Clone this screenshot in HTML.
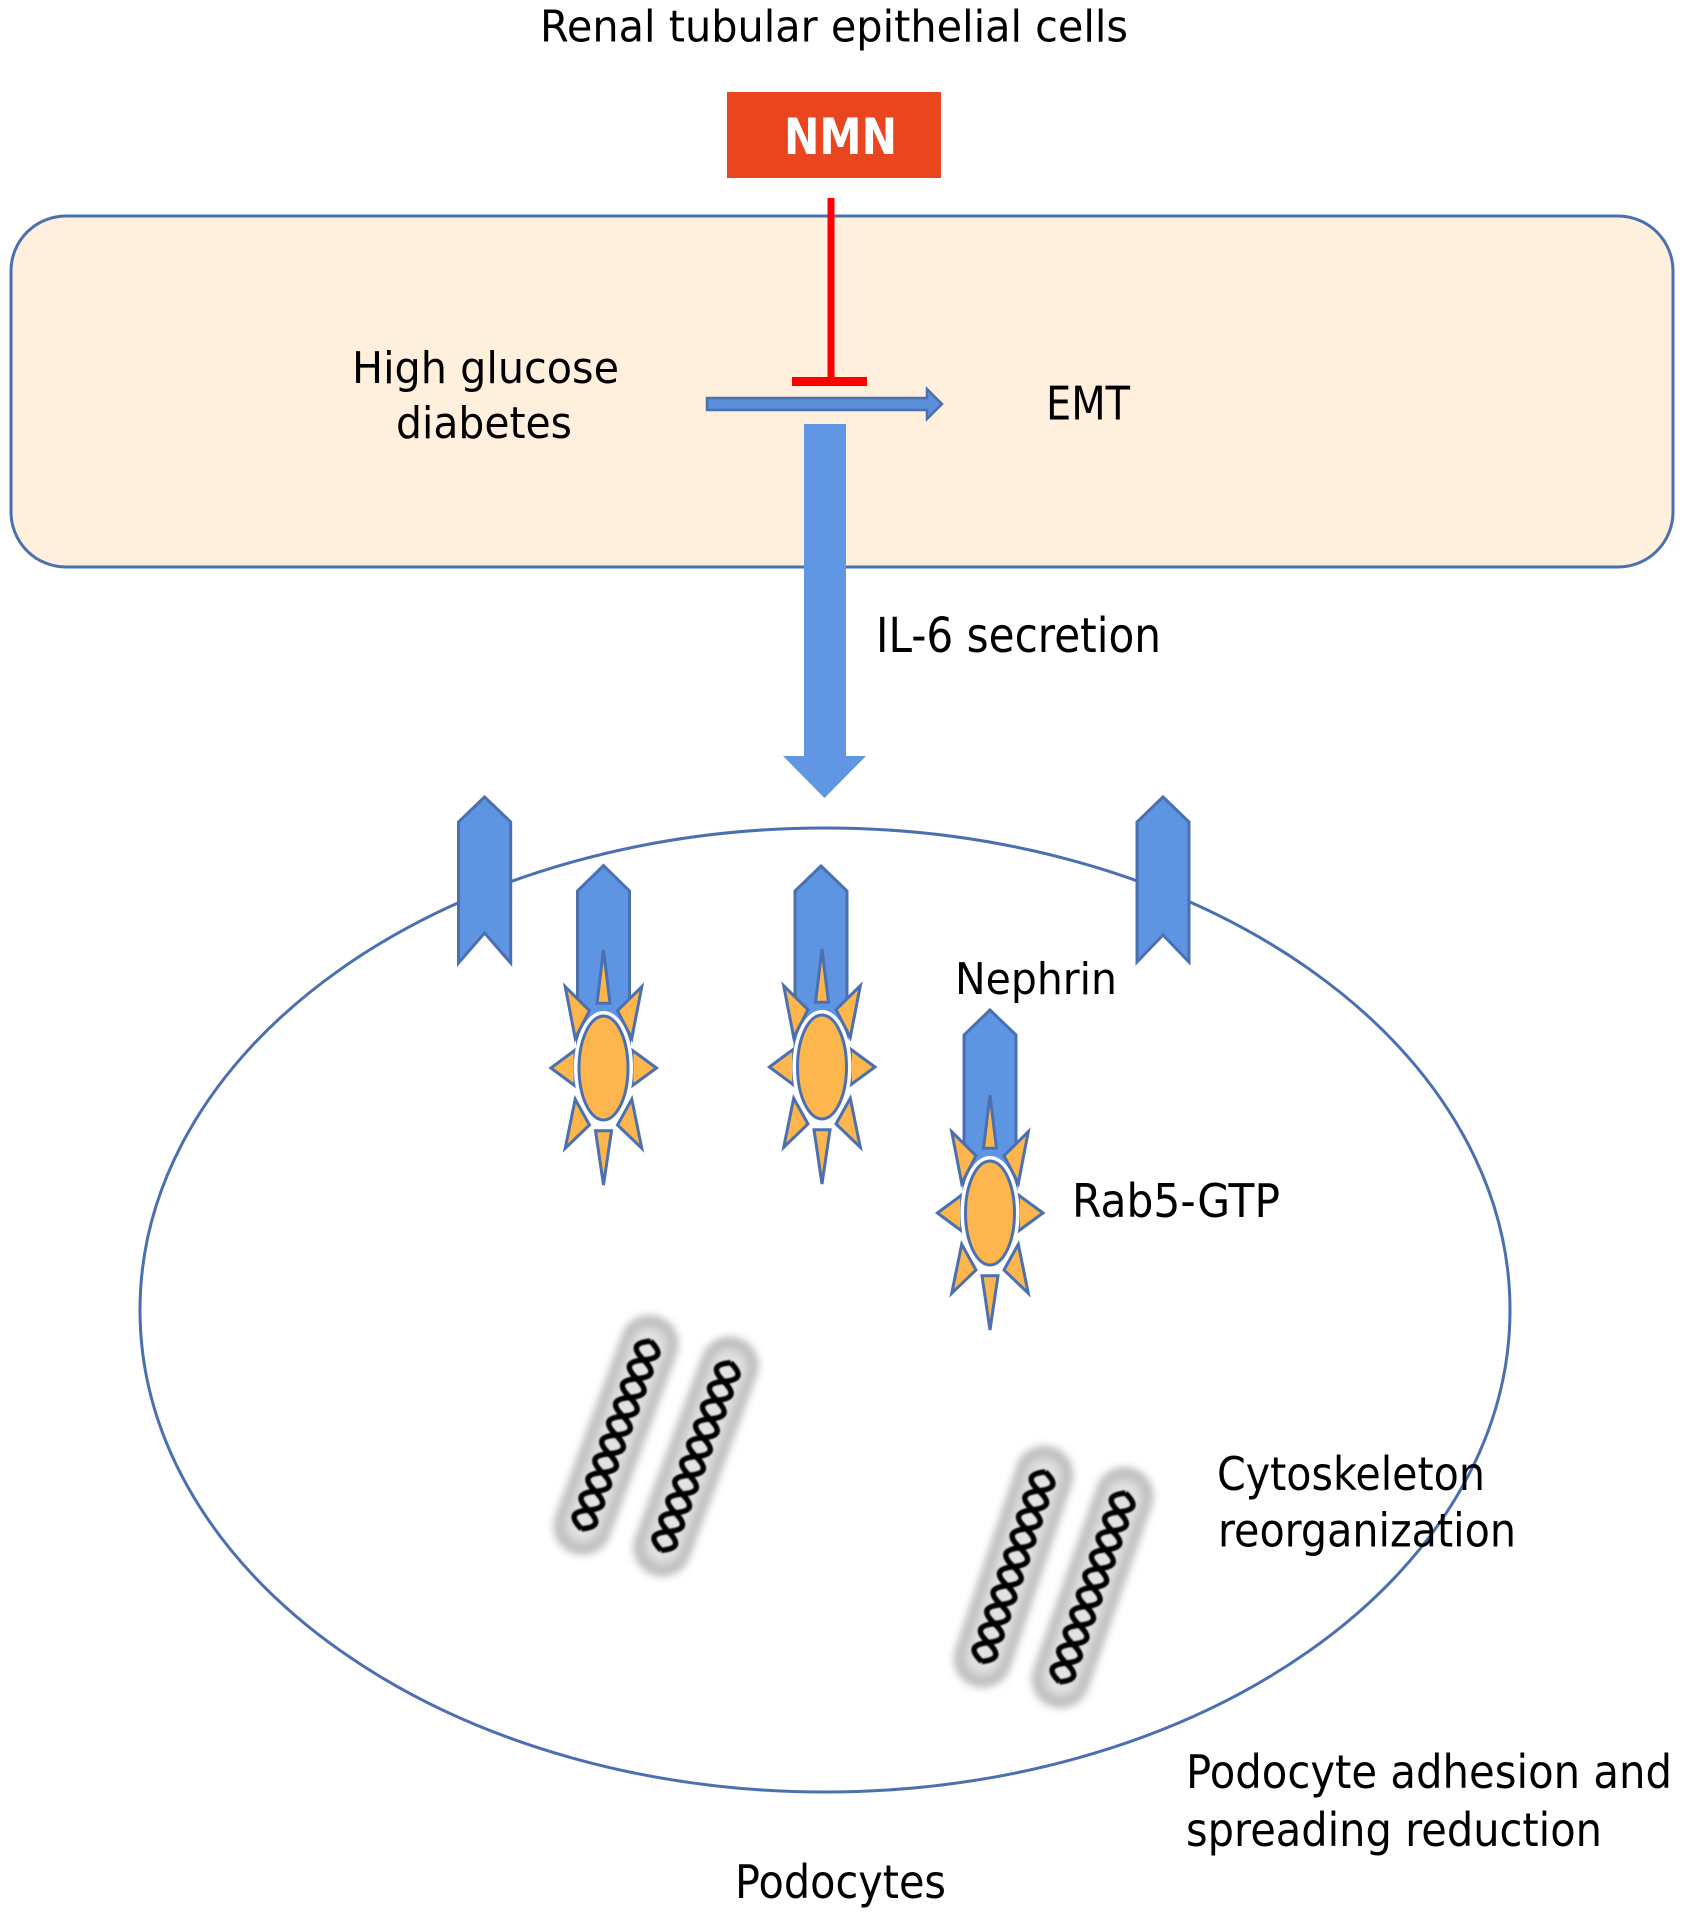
<!DOCTYPE html>
<html>
<head>
<meta charset="utf-8">
<style>
html,body{margin:0;padding:0;background:#fff;}
svg{display:block;}
text{font-family:"DejaVu Sans","Liberation Sans",sans-serif;fill:#000;}
</style>
</head>
<body>
<svg width="1686" height="1919" viewBox="0 0 1686 1919" xmlns="http://www.w3.org/2000/svg">
<defs>
  <filter id="blurH" filterUnits="userSpaceOnUse" x="-90" y="-190" width="180" height="380"><feGaussianBlur stdDeviation="4"/></filter>
  <filter id="blurI" filterUnits="userSpaceOnUse" x="-90" y="-190" width="180" height="380"><feGaussianBlur stdDeviation="5"/></filter>
  <filter id="blurC" filterUnits="userSpaceOnUse" x="-90" y="-190" width="180" height="380"><feGaussianBlur stdDeviation="0.9"/></filter>
  <g id="sun">
    <g fill="#FDB54E" stroke="#4A70B0" stroke-width="3" stroke-linejoin="miter">
      <path d="M0,-118 L6.5,-64.7 L-6.5,-64.7 Z"/>
      <path d="M0,117 L8,62.7 L-8,62.7 Z"/>
      <path d="M-52.6,0 L-28.3,-18 L-28.3,18 Z"/>
      <path d="M53,0 L28.4,-18 L28.4,18 Z"/>
      <path d="M-38.3,-81.3 L-14,-57.3 L-28.3,-29.7 Z"/>
      <path d="M38.3,-81.3 L14,-57.3 L28.3,-29.7 Z"/>
      <path d="M-38.3,80.3 L-14,57 L-28.3,31.3 Z"/>
      <path d="M38.3,80.3 L14,57 L28.3,31.3 Z"/>
    </g>
    <ellipse cx="0" cy="0" rx="25" ry="52.5" fill="#fff" stroke="#fff" stroke-width="9"/>
    <ellipse cx="0" cy="0" rx="24.5" ry="52" fill="#FDB54E" stroke="#4A70B0" stroke-width="3"/>
  </g>
  <g id="fil">
    <rect x="-29" y="-126" width="58" height="252" rx="29" ry="29" fill="#bdbdbd" filter="url(#blurH)"/>
    <rect x="-18" y="-114" width="36" height="228" rx="18" ry="18" fill="#e2e2e2" filter="url(#blurI)"/>
    <g fill="none" stroke="#000" stroke-width="5.5" filter="url(#blurC)">
      <path d="M0,-100 C15,-93 15,-87 0,-80 C-15,-73 -15,-67 0,-60 C15,-53 15,-47 0,-40 C-15,-33 -15,-27 0,-20 C15,-13 15,-7 0,0 C-15,7 -15,13 0,20 C15,27 15,33 0,40 C-15,47 -15,53 0,60 C15,67 15,73 0,80 C-15,87 -15,93 0,100"/>
      <path d="M0,-100 C-15,-93 -15,-87 0,-80 C15,-73 15,-67 0,-60 C-15,-53 -15,-47 0,-40 C15,-33 15,-27 0,-20 C-15,-13 -15,-7 0,0 C15,7 15,13 0,20 C-15,27 -15,33 0,40 C15,47 15,53 0,60 C-15,67 -15,73 0,80 C15,87 15,93 0,100"/>
    </g>
  </g>
</defs>

<!-- Title -->
<text x="540" y="41.5" font-size="44" textLength="588" lengthAdjust="spacingAndGlyphs">Renal tubular epithelial cells</text>

<!-- NMN box -->
<rect x="727" y="92" width="214" height="86" fill="#E9461F"/>
<text x="784" y="154" font-size="50" font-weight="bold" style="fill:#fff" textLength="113" lengthAdjust="spacingAndGlyphs">NMN</text>

<!-- Rounded cell rectangle -->
<rect x="11" y="216" width="1662" height="351" rx="55" ry="55" fill="#FEF0DD" stroke="#4A70B0" stroke-width="3"/>

<!-- red inhibition -->
<rect x="827.5" y="198" width="7" height="180" fill="#FF0000"/>
<rect x="792" y="377" width="75" height="9" fill="#FF0000"/>

<!-- horizontal arrow -->
<polygon points="707,398 927,398 927,389 942,404 927,419 927,410 707,410" fill="#5B8EDB" stroke="#4A70B0" stroke-width="2.5" stroke-linejoin="miter"/>

<text x="352" y="383" font-size="44" textLength="267" lengthAdjust="spacingAndGlyphs">High glucose</text>
<text x="396" y="438" font-size="44" textLength="176" lengthAdjust="spacingAndGlyphs">diabetes</text>
<text x="1046" y="419.5" font-size="46" textLength="84" lengthAdjust="spacingAndGlyphs">EMT</text>

<!-- big down arrow -->
<polygon points="804,424 846,424 846,756 866,756 824.5,798 783,756 804,756" fill="#6096E4"/>
<text x="876" y="652" font-size="48" textLength="285" lengthAdjust="spacingAndGlyphs">IL-6 secretion</text>

<!-- podocyte ellipse -->
<ellipse cx="825" cy="1310" rx="685" ry="482" fill="none" stroke="#4A70B0" stroke-width="3"/>

<!-- membrane receptors -->
<polygon points="484.6,797 510.7,822 510.7,963 484.6,933 458.5,963 458.5,822" fill="#5E95E2" stroke="#4A70B0" stroke-width="3"/>
<polygon points="1163,797 1189,822 1189,962 1163,935 1137,962 1137,822" fill="#5E95E2" stroke="#4A70B0" stroke-width="3"/>

<!-- nephrin receptors with Rab5 -->
<polygon points="603.5,865.6 629.5,891 629.5,1068 577.5,1068 577.5,891" fill="#5E95E2" stroke="#4A70B0" stroke-width="3"/>
<use href="#sun" transform="translate(603.5,1068)"/>

<polygon points="821,866 847,891 847,1067 795,1067 795,891" fill="#5E95E2" stroke="#4A70B0" stroke-width="3"/>
<use href="#sun" transform="translate(822,1067)"/>

<polygon points="990,1010 1016,1035 1016,1213 964,1213 964,1035" fill="#5E95E2" stroke="#4A70B0" stroke-width="3"/>
<use href="#sun" transform="translate(990,1213)"/>

<text x="955" y="994" font-size="44" textLength="162" lengthAdjust="spacingAndGlyphs">Nephrin</text>
<text x="1072" y="1217" font-size="46" textLength="208" lengthAdjust="spacingAndGlyphs">Rab5-GTP</text>

<!-- cytoskeleton filaments -->
<use href="#fil" transform="translate(616,1435) rotate(20.2)"/>
<use href="#fil" transform="translate(696,1456.5) rotate(20.3)"/>
<use href="#fil" transform="translate(1013.5,1566.7) rotate(18.5)"/>
<use href="#fil" transform="translate(1092.5,1587.5) rotate(19.2)"/>

<text x="1217" y="1490" font-size="46" textLength="268" lengthAdjust="spacingAndGlyphs">Cytoskeleton</text>
<text x="1218" y="1546.5" font-size="46" textLength="298" lengthAdjust="spacingAndGlyphs">reorganization</text>
<text x="1186" y="1788" font-size="46" textLength="486" lengthAdjust="spacingAndGlyphs">Podocyte adhesion and</text>
<text x="1186" y="1846" font-size="46" textLength="416" lengthAdjust="spacingAndGlyphs">spreading reduction</text>
<text x="735" y="1898" font-size="46" textLength="211" lengthAdjust="spacingAndGlyphs">Podocytes</text>
</svg>
</body>
</html>
